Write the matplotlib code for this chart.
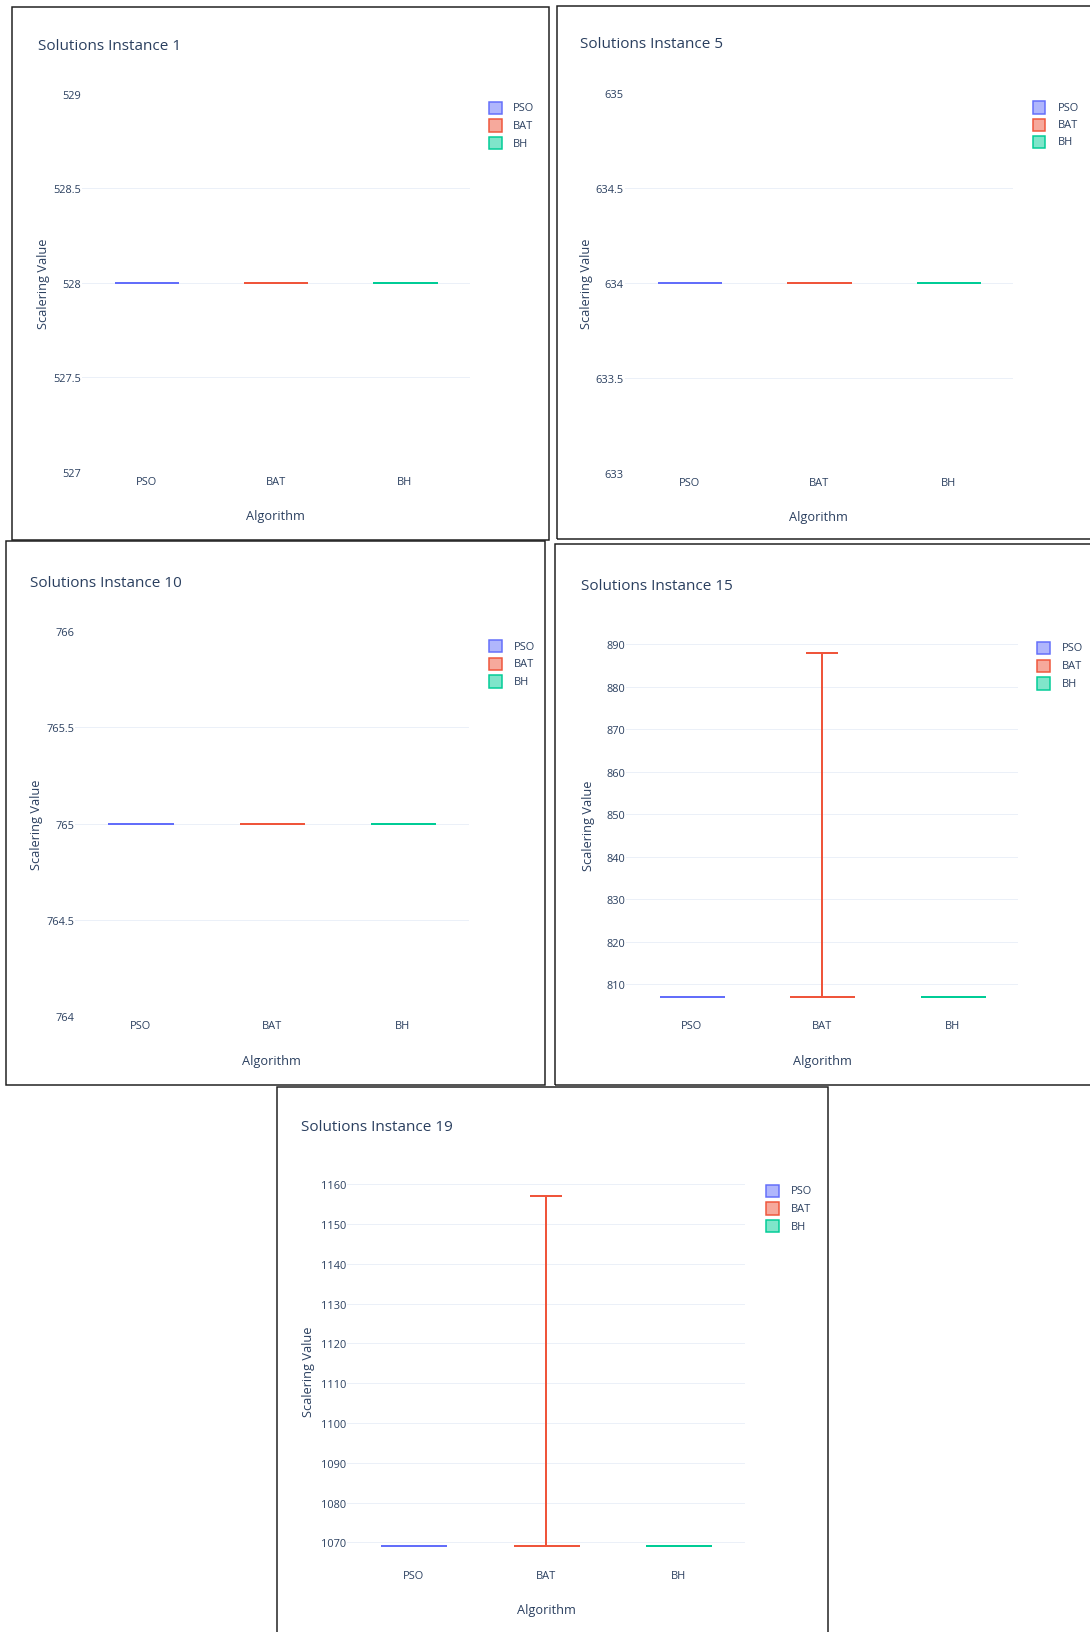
import matplotlib
matplotlib.use("Agg")
import matplotlib.pyplot as plt
from matplotlib.colors import to_rgba
from matplotlib.patches import Rectangle
from matplotlib.ticker import MultipleLocator, FuncFormatter

plt.rcParams["font.family"] = ["Open Sans", "DejaVu Sans"]

W, H = 1090, 1633
PX = 72 / 100  # points per pixel at dpi=100

TEXT = "#2a3f5f"
GRID = "#EBF0F8"
BORDER = "#1e1e1e"

INSTANCES = [1, 5, 10, 15, 19]
ALGORITHMS = ["PSO", "BAT", "BH"]
COLORS = {"PSO": "#636efa", "BAT": "#EF553B", "BH": "#00cc96"}

# box summaries per instance; quartiles sit on the median for every run set
PSO_MIN = [528, 634, 765, 807, 1069]
PSO_MED = [528, 634, 765, 807, 1069]
PSO_MAX = [528, 634, 765, 807, 1069]
BAT_MIN = [528, 634, 765, 807, 1069]
BAT_MED = [528, 634, 765, 807, 1069]
BAT_MAX = [528, 634, 765, 888, 1157]
BH_MIN = [528, 634, 765, 807, 1069]
BH_MED = [528, 634, 765, 807, 1069]
BH_MAX = [528, 634, 765, 807, 1069]

STATS = {
    "PSO": (PSO_MIN, PSO_MED, PSO_MAX),
    "BAT": (BAT_MIN, BAT_MED, BAT_MAX),
    "BH": (BH_MIN, BH_MED, BH_MAX),
}
TICK_STEP = [0.5, 0.5, 0.5, 10, 10]

# page layout in pixels: panel frame, plot span, one tick row for scale, text anchors
LAYOUT = [
    dict(border=(11.5, 8.3, 548.6, 541.3), xspan=(82.2, 469.5), yref=((529, 94.7), (527, 472.7)),
         title=(37.5, 46.0), legend=(495.6, 513.3, 108.7, 17.7), ylabel_x=43.7, xlabel_y=516.3),
    dict(border=(557.0, 7.3, 1100.0, 540.4), xspan=(624.7, 1013.0), yref=((635, 93.7), (633, 473.7)),
         title=(579.9, 45.0), legend=(1039.0, 1058.0, 108.5, 17.2), ylabel_x=586.1, xlabel_y=517.4),
    dict(border=(6.2, 542.4, 544.5, 1086.2), xspan=(75.0, 468.5), yref=((766, 632.0), (764, 1017.5)),
         title=(30.2, 583.3), legend=(495.6, 514.3, 647.0, 17.7), ylabel_x=36.4, xlabel_y=1062.0),
    dict(border=(555.0, 544.5, 1100.0, 1086.2), xspan=(626.4, 1018.0), yref=((890, 645.5), (810, 985.2)),
         title=(581.0, 586.3), legend=(1043.5, 1062.0, 649.0, 17.7), ylabel_x=588.2, xlabel_y=1062.0),
    dict(border=(277.0, 1088.3, 827.6, 1645.0), xspan=(346.9, 745.2), yref=((1160, 1185.1), (1070, 1543.4)),
         title=(300.9, 1128.0), legend=(772.5, 791.2, 1191.8, 17.7), ylabel_x=308.2, xlabel_y=1611.0),
]


def fx(x):
    return x / W


def fy(y):
    return 1 - y / H


fig = plt.figure(figsize=(W / 100, H / 100), dpi=100)
fig.patch.set_facecolor("white")

for i, inst in enumerate(INSTANCES):
    lay = LAYOUT[i]

    # screenshot frame around each panel
    l, t, r, b = lay["border"]
    fig.add_artist(Rectangle((fx(l), fy(b)), (r - l) / W, (b - t) / H, transform=fig.transFigure,
                             fill=False, edgecolor=BORDER, linewidth=1.5 * PX))

    lows = [STATS[a][0][i] for a in ALGORITHMS]
    highs = [STATS[a][2][i] for a in ALGORITHMS]
    v_lo, v_hi = min(lows), max(highs)
    if v_hi == v_lo:
        y_lo, y_hi = v_lo - 1, v_hi + 1
    else:
        pad = (v_hi - v_lo) * 0.05 / 0.9
        y_lo, y_hi = v_lo - pad, v_hi + pad

    (va, ya), (vb, yb) = lay["yref"]
    ppu = (yb - ya) / (va - vb)
    top = ya - (y_hi - va) * ppu
    bottom = yb + (vb - y_lo) * ppu
    pl, pr = lay["xspan"]
    ax = fig.add_axes([fx(pl), fy(bottom), (pr - pl) / W, (bottom - top) / H])
    ax.set_facecolor("white")

    for k, alg in enumerate(ALGORITHMS):
        lo, med, hi = (s[i] for s in STATS[alg])
        stat = dict(med=med, q1=med, q3=med, whislo=lo, whishi=hi, fliers=[])
        c = COLORS[alg]
        line = dict(color=c, linewidth=2 * PX, solid_capstyle="butt")
        ax.bxp([stat], positions=[k], widths=0.49, capwidths=0.245, showfliers=False,
               manage_ticks=False, boxprops=line, medianprops=line,
               whiskerprops=line, capprops=line)

    ax.set_xlim(-0.5, 2.5)
    ax.set_ylim(y_lo, y_hi)
    ax.set_xticks(range(len(ALGORITHMS)), ALGORITHMS)
    ax.yaxis.set_major_locator(MultipleLocator(TICK_STEP[i]))
    ax.yaxis.set_major_formatter(FuncFormatter(lambda v, _: f"{v:g}"))

    # grid rows only strictly inside the range
    for tv in ax.get_yticks():
        if y_lo + 1e-9 < tv < y_hi - 1e-9:
            ax.axhline(tv, color=GRID, linewidth=1 * PX, zorder=0)

    for sp in ax.spines.values():
        sp.set_visible(False)
    ax.tick_params(axis="both", length=0, labelsize=7.9, labelcolor=TEXT)
    ax.tick_params(axis="y", pad=1 * PX)
    ax.tick_params(axis="x", pad=4 * PX)

    ax.set_ylabel("Scalering Value", fontsize=9.2, color=TEXT, va="center")
    ax.yaxis.set_label_coords((lay["ylabel_x"] - pl) / (pr - pl), 0.5)
    ax.set_xlabel("Algorithm", fontsize=9.2, color=TEXT, va="center")
    ax.xaxis.set_label_coords(0.5, (bottom - lay["xlabel_y"]) / (bottom - top))

    tx, ty = lay["title"]
    fig.text(fx(tx), fy(ty), f"Solutions Instance {inst}", fontsize=11.0, color=TEXT,
             ha="left", va="center")

    # legend swatches
    sq_x, txt_x, row_y, step = lay["legend"]
    size = 12.4
    for k, alg in enumerate(ALGORITHMS):
        ry = row_y + k * step
        c = COLORS[alg]
        fig.add_artist(Rectangle((fx(sq_x - size / 2), fy(ry + size / 2)), size / W, size / H,
                                 transform=fig.transFigure, facecolor=to_rgba(c, 0.5),
                                 edgecolor=c, linewidth=1.5 * PX))
        fig.text(fx(txt_x), fy(ry), alg, fontsize=7.9, color=TEXT, ha="left", va="center")

fig.savefig("out.png", dpi=100, facecolor="white")
plt.close(fig)
